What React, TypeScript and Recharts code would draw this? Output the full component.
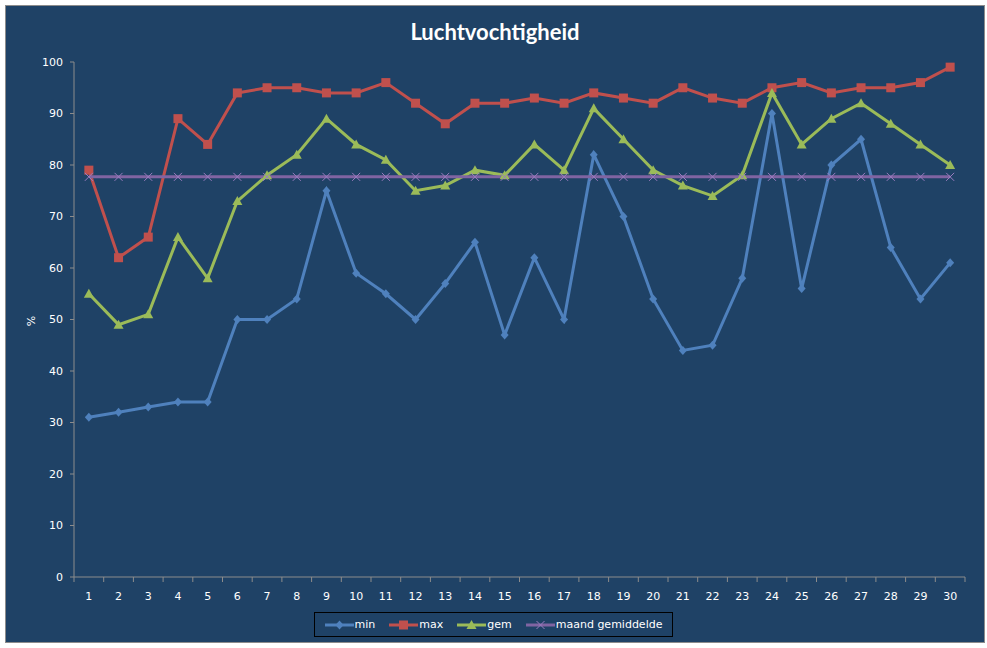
import React from 'react';
import { LineChart, Line, XAxis, YAxis } from 'recharts';

const days = ['1','2','3','4','5','6','7','8','9','10','11','12','13','14','15','16','17','18','19','20','21','22','23','24','25','26','27','28','29','30'];
const minValues = [31,32,33,34,34,50,50,54,75,59,55,50,57,65,47,62,50,82,70,54,44,45,58,90,56,80,85,64,54,61];
const maxValues = [79,62,66,89,84,94,95,95,94,94,96,92,88,92,92,93,92,94,93,92,95,93,92,95,96,94,95,95,96,99];
const gemValues = [55,49,51,66,58,73,78,82,89,84,81,75,76,79,78,84,79,91,85,79,76,74,78,94,84,89,92,88,84,80];
const maandValues = [77.7,77.7,77.7,77.7,77.7,77.7,77.7,77.7,77.7,77.7,77.7,77.7,77.7,77.7,77.7,77.7,77.7,77.7,77.7,77.7,77.7,77.7,77.7,77.7,77.7,77.7,77.7,77.7,77.7,77.7];
const yTicks = [0,10,20,30,40,50,60,70,80,90,100];

const data = days.map((d, i) => ({
  day: d,
  min: minValues[i],
  max: maxValues[i],
  gem: gemValues[i],
  maand: maandValues[i],
}));

const BG = '#1F4266';
const AXIS = '#8C8C8C';
const FONT = '"DejaVu Sans", Verdana, sans-serif';
const TICK_SIZE = 4;
const TICK_MARGIN = 11;

type Shape = 'diamond' | 'square' | 'triangle' | 'x';

const series: { key: string; name: string; color: string; shape: Shape }[] = [
  { key: 'min', name: 'min', color: '#4F81BD', shape: 'diamond' },
  { key: 'max', name: 'max', color: '#C0504D', shape: 'square' },
  { key: 'gem', name: 'gem', color: '#9BBB59', shape: 'triangle' },
  { key: 'maand', name: 'maand gemiddelde', color: '#8064A2', shape: 'x' },
];

function marker(shape: Shape, cx: number, cy: number, color: string, key?: string) {
  if (shape === 'diamond') {
    return <path key={key} d={`M${cx},${cy - 4.5}L${cx + 4},${cy}L${cx},${cy + 4.5}L${cx - 4},${cy}Z`} fill={color} />;
  }
  if (shape === 'square') {
    return <rect key={key} x={cx - 4.5} y={cy - 4.5} width={9} height={9} fill={color} />;
  }
  if (shape === 'triangle') {
    return <path key={key} d={`M${cx},${cy - 5}L${cx + 5},${cy + 4}L${cx - 5},${cy + 4}Z`} fill={color} />;
  }
  return (
    <path key={key} d={`M${cx - 4},${cy - 4}L${cx + 4},${cy + 4}M${cx - 4},${cy + 4}L${cx + 4},${cy - 4}`} stroke="#9A7CC0" strokeWidth={1} fill="none" />
  );
}

function makeDot(shape: Shape, color: string) {
  return (p: any) => {
    if (p.cx == null || p.cy == null) return <g key={`e-${p.index}`} />;
    return marker(shape, p.cx, p.cy, color, `${shape}-${p.index}`);
  };
}

function XTick(props: any) {
  const { x, y, payload, index, visibleTicksCount } = props;
  const half = payload && payload.offset ? payload.offset : 891 / 60;
  const axisY = y - TICK_SIZE - TICK_MARGIN;
  const last = index === (visibleTicksCount ?? days.length) - 1;
  return (
    <g>
      <line x1={x - half} x2={x - half} y1={axisY} y2={axisY + 5} stroke={AXIS} strokeWidth={1} />
      {last && <line x1={x + half} x2={x + half} y1={axisY} y2={axisY + 5} stroke={AXIS} strokeWidth={1} />}
      <text x={x} y={y} dy="0.71em" textAnchor="middle" fill="#FFFFFF" fontSize={11} fontFamily={FONT}>
        {payload.value}
      </text>
    </g>
  );
}

function LegendBox() {
  return (
    <div
      style={{
        position: 'absolute',
        left: 308,
        top: 606,
        width: 357,
        height: 23,
        border: '1px solid #000000',
        display: 'flex',
        alignItems: 'center',
        justifyContent: 'center',
        gap: 14,
        fontFamily: FONT,
        fontSize: 11,
        color: '#FFFFFF',
        boxSizing: 'content-box',
      }}
    >
      {series.map((s) => (
        <div key={s.key} style={{ display: 'flex', alignItems: 'center' }}>
          <svg width={29} height={12} style={{ display: 'block' }}>
            <line x1={0} x2={29} y1={6} y2={6} stroke={s.color} strokeWidth={3} />
            {marker(s.shape, 14.5, 6, s.color)}
          </svg>
          <span style={{ marginLeft: 1, lineHeight: '12px' }}>{s.name}</span>
        </div>
      ))}
    </div>
  );
}

export default function App() {
  return (
    <div
      style={{
        position: 'absolute',
        left: 5,
        top: 5,
        width: 978,
        height: 636,
        background: BG,
        border: '1px solid #8C8C8C',
      }}
    >
      <div
        style={{
          position: 'absolute',
          left: 0,
          top: 12,
          width: 978,
          textAlign: 'center',
          fontFamily: 'Lato, "Noto Sans", sans-serif',
          fontWeight: 700,
          fontSize: 22,
          color: '#FFFFFF',
        }}
      >
        Luchtvochtigheid
      </div>
      <div
        style={{
          position: 'absolute',
          left: 19,
          top: 308,
          width: 14,
          height: 14,
          transform: 'rotate(-90deg)',
          fontFamily: FONT,
          fontSize: 11,
          color: '#FFFFFF',
          lineHeight: '14px',
          textAlign: 'center',
        }}
      >
        %
      </div>
      <LineChart
        width={978}
        height={636}
        data={data}
        margin={{ top: 56, right: 19, bottom: 35, left: 0 }}
        style={{ position: 'absolute', left: 0, top: 0 }}
      >
        <XAxis
          dataKey="day"
          scale="band"
          height={30}
          stroke={AXIS}
          tickLine={false}
          tickSize={TICK_SIZE}
          tickMargin={TICK_MARGIN}
          interval={0}
          tick={<XTick />}
        />
        <YAxis
          width={68}
          domain={[0, 100]}
          ticks={yTicks}
          interval={0}
          stroke={AXIS}
          tickSize={TICK_SIZE}
          tickMargin={7}
          tick={{ fill: '#FFFFFF', fontSize: 11, fontFamily: FONT }}
        />
        {series.map((s) => (
          <Line
            key={s.key}
            dataKey={s.key}
            name={s.name}
            stroke={s.color}
            strokeWidth={3}
            dot={makeDot(s.shape, s.color)}
            activeDot={false}
            isAnimationActive={false}
          />
        ))}
      </LineChart>
      <LegendBox />
    </div>
  );
}
